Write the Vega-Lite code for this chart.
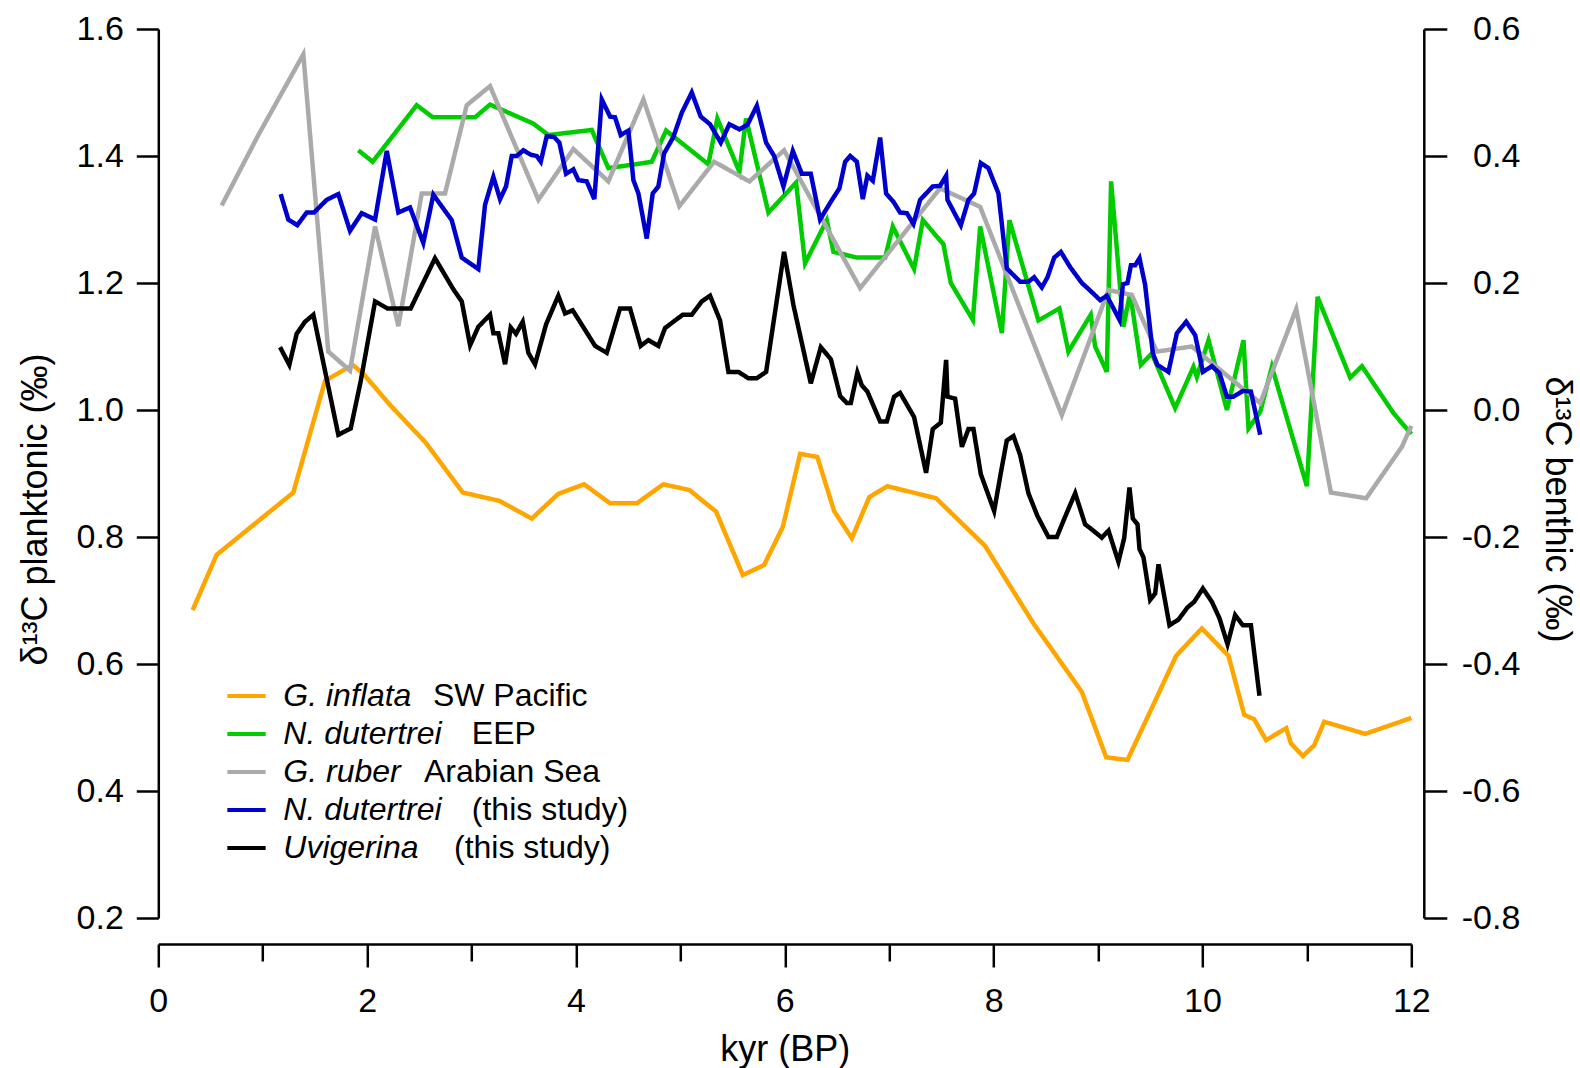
{
"$schema":"https://vega.github.io/schema/vega-lite/v6.json",
"width":1253,"height":889,
"autosize":{"type":"none"},
"padding":{"left":158.3,"top":29,"right":168.7,"bottom":150},
"background":"white",
"config":{"view":{"stroke":null},
"axis":{"domainColor":"black","domainWidth":2.5,"tickColor":"black","tickWidth":2.5,"labelFont":"Liberation Sans","labelFontSize":34,"labelColor":"black","titleFont":"Liberation Sans","titleFontSize":36,"titleColor":"black","titleFontWeight":"normal","grid":false,"labelFlush":false,"labelOverlap":false},
"legend":{"labelFont":"Liberation Sans","labelColor":"black","labelLimit":0}},
"data":{"values":[
{"series":"s1","kyr":0.329,"d13c":0.685},{"series":"s1","kyr":0.559,"d13c":0.772},{"series":"s1","kyr":1.293,"d13c":0.870},{"series":"s1","kyr":1.597,"d13c":1.046},{"series":"s1","kyr":1.862,"d13c":1.071},{"series":"s1","kyr":1.964,"d13c":1.057},{"series":"s1","kyr":2.219,"d13c":1.008},{"series":"s1","kyr":2.564,"d13c":0.948},{"series":"s1","kyr":2.916,"d13c":0.870},{"series":"s1","kyr":3.266,"d13c":0.857},{"series":"s1","kyr":3.577,"d13c":0.829},{"series":"s1","kyr":3.831,"d13c":0.868},{"series":"s1","kyr":4.078,"d13c":0.883},{"series":"s1","kyr":4.327,"d13c":0.853},{"series":"s1","kyr":4.582,"d13c":0.853},{"series":"s1","kyr":4.837,"d13c":0.883},{"series":"s1","kyr":5.086,"d13c":0.874},{"series":"s1","kyr":5.342,"d13c":0.840},{"series":"s1","kyr":5.598,"d13c":0.740},{"series":"s1","kyr":5.802,"d13c":0.756},{"series":"s1","kyr":5.981,"d13c":0.816},{"series":"s1","kyr":6.147,"d13c":0.931},{"series":"s1","kyr":6.312,"d13c":0.926},{"series":"s1","kyr":6.472,"d13c":0.841},{"series":"s1","kyr":6.642,"d13c":0.798},{"series":"s1","kyr":6.810,"d13c":0.863},{"series":"s1","kyr":6.983,"d13c":0.880},{"series":"s1","kyr":7.449,"d13c":0.861},{"series":"s1","kyr":7.918,"d13c":0.786},{"series":"s1","kyr":8.381,"d13c":0.664},{"series":"s1","kyr":8.845,"d13c":0.556},{"series":"s1","kyr":9.078,"d13c":0.453},{"series":"s1","kyr":9.282,"d13c":0.449},{"series":"s1","kyr":9.499,"d13c":0.525},{"series":"s1","kyr":9.748,"d13c":0.613},{"series":"s1","kyr":9.994,"d13c":0.656},{"series":"s1","kyr":10.249,"d13c":0.613},{"series":"s1","kyr":10.400,"d13c":0.520},{"series":"s1","kyr":10.495,"d13c":0.513},{"series":"s1","kyr":10.610,"d13c":0.480},{"series":"s1","kyr":10.802,"d13c":0.499},{"series":"s1","kyr":10.847,"d13c":0.475},{"series":"s1","kyr":10.962,"d13c":0.455},{"series":"s1","kyr":11.070,"d13c":0.472},{"series":"s1","kyr":11.166,"d13c":0.509},{"series":"s1","kyr":11.559,"d13c":0.490},{"series":"s1","kyr":12.0,"d13c":0.515},
{"series":"s2","kyr":1.916,"d13c":1.409},{"series":"s2","kyr":2.053,"d13c":1.391},{"series":"s2","kyr":2.475,"d13c":1.480},{"series":"s2","kyr":2.628,"d13c":1.461},{"series":"s2","kyr":3.034,"d13c":1.461},{"series":"s2","kyr":3.177,"d13c":1.481},{"series":"s2","kyr":3.592,"d13c":1.451},{"series":"s2","kyr":3.736,"d13c":1.433},{"series":"s2","kyr":4.151,"d13c":1.441},{"series":"s2","kyr":4.310,"d13c":1.381},{"series":"s2","kyr":4.614,"d13c":1.388},{"series":"s2","kyr":4.726,"d13c":1.391},{"series":"s2","kyr":4.863,"d13c":1.440},{"series":"s2","kyr":5.268,"d13c":1.387},{"series":"s2","kyr":5.354,"d13c":1.459},{"series":"s2","kyr":5.565,"d13c":1.375},{"series":"s2","kyr":5.629,"d13c":1.459},{"series":"s2","kyr":5.843,"d13c":1.311},{"series":"s2","kyr":6.108,"d13c":1.358},{"series":"s2","kyr":6.194,"d13c":1.231},{"series":"s2","kyr":6.402,"d13c":1.299},{"series":"s2","kyr":6.466,"d13c":1.249},{"series":"s2","kyr":6.690,"d13c":1.240},{"series":"s2","kyr":6.961,"d13c":1.240},{"series":"s2","kyr":7.034,"d13c":1.289},{"series":"s2","kyr":7.238,"d13c":1.222},{"series":"s2","kyr":7.322,"d13c":1.299},{"series":"s2","kyr":7.519,"d13c":1.261},{"series":"s2","kyr":7.590,"d13c":1.200},{"series":"s2","kyr":7.801,"d13c":1.142},{"series":"s2","kyr":7.871,"d13c":1.289},{"series":"s2","kyr":8.079,"d13c":1.121},{"series":"s2","kyr":8.151,"d13c":1.299},{"series":"s2","kyr":8.429,"d13c":1.141},{"series":"s2","kyr":8.630,"d13c":1.160},{"series":"s2","kyr":8.716,"d13c":1.092},{"series":"s2","kyr":8.930,"d13c":1.150},{"series":"s2","kyr":8.972,"d13c":1.100},{"series":"s2","kyr":9.084,"d13c":1.060},{"series":"s2","kyr":9.125,"d13c":1.360},{"series":"s2","kyr":9.243,"d13c":1.131},{"series":"s2","kyr":9.307,"d13c":1.184},{"series":"s2","kyr":9.410,"d13c":1.071},{"series":"s2","kyr":9.515,"d13c":1.089},{"series":"s2","kyr":9.738,"d13c":1.003},{"series":"s2","kyr":9.914,"d13c":1.068},{"series":"s2","kyr":9.946,"d13c":1.052},{"series":"s2","kyr":10.058,"d13c":1.110},{"series":"s2","kyr":10.234,"d13c":1.000},{"series":"s2","kyr":10.393,"d13c":1.110},{"series":"s2","kyr":10.441,"d13c":0.971},{"series":"s2","kyr":10.553,"d13c":0.997},{"series":"s2","kyr":10.665,"d13c":1.068},{"series":"s2","kyr":11.000,"d13c":0.880},{"series":"s2","kyr":11.102,"d13c":1.178},{"series":"s2","kyr":11.415,"d13c":1.051},{"series":"s2","kyr":11.527,"d13c":1.069},{"series":"s2","kyr":11.830,"d13c":0.995},{"series":"s2","kyr":12.0,"d13c":0.962},
{"series":"s3","kyr":0.607,"d13c":1.322},{"series":"s3","kyr":0.958,"d13c":1.433},{"series":"s3","kyr":1.389,"d13c":1.560},{"series":"s3","kyr":1.628,"d13c":1.092},{"series":"s3","kyr":1.836,"d13c":1.062},{"series":"s3","kyr":2.076,"d13c":1.289},{"series":"s3","kyr":2.299,"d13c":1.132},{"series":"s3","kyr":2.523,"d13c":1.341},{"series":"s3","kyr":2.746,"d13c":1.341},{"series":"s3","kyr":2.954,"d13c":1.480},{"series":"s3","kyr":3.177,"d13c":1.510},{"series":"s3","kyr":3.640,"d13c":1.331},{"series":"s3","kyr":3.975,"d13c":1.411},{"series":"s3","kyr":4.310,"d13c":1.360},{"series":"s3","kyr":4.646,"d13c":1.489},{"series":"s3","kyr":4.990,"d13c":1.321},{"series":"s3","kyr":5.323,"d13c":1.391},{"series":"s3","kyr":5.661,"d13c":1.360},{"series":"s3","kyr":5.993,"d13c":1.409},{"series":"s3","kyr":6.721,"d13c":1.192},{"series":"s3","kyr":7.487,"d13c":1.349},{"series":"s3","kyr":7.871,"d13c":1.320},{"series":"s3","kyr":8.653,"d13c":0.992},{"series":"s3","kyr":9.100,"d13c":1.189},{"series":"s3","kyr":9.324,"d13c":1.181},{"series":"s3","kyr":9.563,"d13c":1.092},{"series":"s3","kyr":9.898,"d13c":1.100},{"series":"s3","kyr":10.553,"d13c":1.011},{"series":"s3","kyr":10.898,"d13c":1.159},{"series":"s3","kyr":11.230,"d13c":0.870},{"series":"s3","kyr":11.568,"d13c":0.861},{"series":"s3","kyr":11.910,"d13c":0.942},{"series":"s3","kyr":12.0,"d13c":0.975},
{"series":"s4","kyr":1.172,"d13c":1.340},{"series":"s4","kyr":1.245,"d13c":1.300},{"series":"s4","kyr":1.331,"d13c":1.291},{"series":"s4","kyr":1.421,"d13c":1.311},{"series":"s4","kyr":1.491,"d13c":1.311},{"series":"s4","kyr":1.613,"d13c":1.331},{"series":"s4","kyr":1.724,"d13c":1.340},{"series":"s4","kyr":1.836,"d13c":1.282},{"series":"s4","kyr":1.948,"d13c":1.310},{"series":"s4","kyr":2.076,"d13c":1.300},{"series":"s4","kyr":2.188,"d13c":1.408},{"series":"s4","kyr":2.299,"d13c":1.311},{"series":"s4","kyr":2.411,"d13c":1.319},{"series":"s4","kyr":2.538,"d13c":1.263},{"series":"s4","kyr":2.634,"d13c":1.339},{"series":"s4","kyr":2.810,"d13c":1.299},{"series":"s4","kyr":2.906,"d13c":1.240},{"series":"s4","kyr":3.065,"d13c":1.222},{"series":"s4","kyr":3.129,"d13c":1.323},{"series":"s4","kyr":3.209,"d13c":1.367},{"series":"s4","kyr":3.273,"d13c":1.332},{"series":"s4","kyr":3.330,"d13c":1.352},{"series":"s4","kyr":3.385,"d13c":1.400},{"series":"s4","kyr":3.433,"d13c":1.400},{"series":"s4","kyr":3.496,"d13c":1.409},{"series":"s4","kyr":3.567,"d13c":1.402},{"series":"s4","kyr":3.624,"d13c":1.400},{"series":"s4","kyr":3.663,"d13c":1.391},{"series":"s4","kyr":3.720,"d13c":1.431},{"series":"s4","kyr":3.790,"d13c":1.430},{"series":"s4","kyr":3.841,"d13c":1.421},{"series":"s4","kyr":3.905,"d13c":1.372},{"series":"s4","kyr":3.975,"d13c":1.379},{"series":"s4","kyr":4.023,"d13c":1.362},{"series":"s4","kyr":4.103,"d13c":1.360},{"series":"s4","kyr":4.176,"d13c":1.332},{"series":"s4","kyr":4.247,"d13c":1.489},{"series":"s4","kyr":4.327,"d13c":1.462},{"series":"s4","kyr":4.374,"d13c":1.461},{"series":"s4","kyr":4.429,"d13c":1.433},{"series":"s4","kyr":4.502,"d13c":1.440},{"series":"s4","kyr":4.550,"d13c":1.362},{"series":"s4","kyr":4.598,"d13c":1.341},{"series":"s4","kyr":4.678,"d13c":1.270},{"series":"s4","kyr":4.735,"d13c":1.341},{"series":"s4","kyr":4.789,"d13c":1.352},{"series":"s4","kyr":4.844,"d13c":1.404},{"series":"s4","kyr":4.933,"d13c":1.430},{"series":"s4","kyr":5.013,"d13c":1.468},{"series":"s4","kyr":5.109,"d13c":1.500},{"series":"s4","kyr":5.195,"d13c":1.462},{"series":"s4","kyr":5.284,"d13c":1.450},{"series":"s4","kyr":5.387,"d13c":1.421},{"series":"s4","kyr":5.469,"d13c":1.450},{"series":"s4","kyr":5.565,"d13c":1.442},{"series":"s4","kyr":5.642,"d13c":1.449},{"series":"s4","kyr":5.732,"d13c":1.479},{"series":"s4","kyr":5.821,"d13c":1.421},{"series":"s4","kyr":5.898,"d13c":1.400},{"series":"s4","kyr":5.987,"d13c":1.352},{"series":"s4","kyr":6.077,"d13c":1.408},{"series":"s4","kyr":6.163,"d13c":1.372},{"series":"s4","kyr":6.249,"d13c":1.372},{"series":"s4","kyr":6.338,"d13c":1.300},{"series":"s4","kyr":6.441,"d13c":1.328},{"series":"s4","kyr":6.523,"d13c":1.349},{"series":"s4","kyr":6.578,"d13c":1.391},{"series":"s4","kyr":6.626,"d13c":1.400},{"series":"s4","kyr":6.690,"d13c":1.391},{"series":"s4","kyr":6.747,"d13c":1.332},{"series":"s4","kyr":6.791,"d13c":1.369},{"series":"s4","kyr":6.843,"d13c":1.361},{"series":"s4","kyr":6.913,"d13c":1.429},{"series":"s4","kyr":6.970,"d13c":1.341},{"series":"s4","kyr":7.040,"d13c":1.328},{"series":"s4","kyr":7.104,"d13c":1.311},{"series":"s4","kyr":7.169,"d13c":1.310},{"series":"s4","kyr":7.232,"d13c":1.293},{"series":"s4","kyr":7.296,"d13c":1.331},{"series":"s4","kyr":7.417,"d13c":1.352},{"series":"s4","kyr":7.487,"d13c":1.353},{"series":"s4","kyr":7.545,"d13c":1.369},{"series":"s4","kyr":7.558,"d13c":1.331},{"series":"s4","kyr":7.686,"d13c":1.291},{"series":"s4","kyr":7.759,"d13c":1.331},{"series":"s4","kyr":7.813,"d13c":1.341},{"series":"s4","kyr":7.877,"d13c":1.389},{"series":"s4","kyr":7.950,"d13c":1.381},{"series":"s4","kyr":8.046,"d13c":1.341},{"series":"s4","kyr":8.126,"d13c":1.223},{"series":"s4","kyr":8.254,"d13c":1.202},{"series":"s4","kyr":8.333,"d13c":1.202},{"series":"s4","kyr":8.388,"d13c":1.209},{"series":"s4","kyr":8.462,"d13c":1.193},{"series":"s4","kyr":8.516,"d13c":1.209},{"series":"s4","kyr":8.580,"d13c":1.240},{"series":"s4","kyr":8.644,"d13c":1.249},{"series":"s4","kyr":8.733,"d13c":1.225},{"series":"s4","kyr":8.845,"d13c":1.200},{"series":"s4","kyr":8.925,"d13c":1.188},{"series":"s4","kyr":9.020,"d13c":1.173},{"series":"s4","kyr":9.084,"d13c":1.180},{"series":"s4","kyr":9.148,"d13c":1.160},{"series":"s4","kyr":9.205,"d13c":1.142},{"series":"s4","kyr":9.238,"d13c":1.198},{"series":"s4","kyr":9.282,"d13c":1.200},{"series":"s4","kyr":9.315,"d13c":1.228},{"series":"s4","kyr":9.356,"d13c":1.228},{"series":"s4","kyr":9.397,"d13c":1.239},{"series":"s4","kyr":9.451,"d13c":1.197},{"series":"s4","kyr":9.525,"d13c":1.089},{"series":"s4","kyr":9.569,"d13c":1.071},{"series":"s4","kyr":9.674,"d13c":1.060},{"series":"s4","kyr":9.755,"d13c":1.121},{"series":"s4","kyr":9.844,"d13c":1.139},{"series":"s4","kyr":9.930,"d13c":1.118},{"series":"s4","kyr":10.004,"d13c":1.060},{"series":"s4","kyr":10.090,"d13c":1.069},{"series":"s4","kyr":10.163,"d13c":1.058},{"series":"s4","kyr":10.234,"d13c":1.021},{"series":"s4","kyr":10.297,"d13c":1.021},{"series":"s4","kyr":10.387,"d13c":1.030},{"series":"s4","kyr":10.464,"d13c":1.029},{"series":"s4","kyr":10.553,"d13c":0.961},
{"series":"s5","kyr":1.166,"d13c":0.099},{"series":"s5","kyr":1.255,"d13c":0.071},{"series":"s5","kyr":1.325,"d13c":0.120},{"series":"s5","kyr":1.405,"d13c":0.139},{"series":"s5","kyr":1.485,"d13c":0.150},{"series":"s5","kyr":1.724,"d13c":-0.039},{"series":"s5","kyr":1.843,"d13c":-0.029},{"series":"s5","kyr":1.938,"d13c":0.045},{"series":"s5","kyr":2.076,"d13c":0.171},{"series":"s5","kyr":2.194,"d13c":0.160},{"series":"s5","kyr":2.417,"d13c":0.160},{"series":"s5","kyr":2.650,"d13c":0.239},{"series":"s5","kyr":2.826,"d13c":0.190},{"series":"s5","kyr":2.906,"d13c":0.171},{"series":"s5","kyr":2.986,"d13c":0.102},{"series":"s5","kyr":3.065,"d13c":0.131},{"series":"s5","kyr":3.177,"d13c":0.150},{"series":"s5","kyr":3.209,"d13c":0.121},{"series":"s5","kyr":3.257,"d13c":0.121},{"series":"s5","kyr":3.321,"d13c":0.072},{"series":"s5","kyr":3.375,"d13c":0.130},{"series":"s5","kyr":3.426,"d13c":0.120},{"series":"s5","kyr":3.490,"d13c":0.139},{"series":"s5","kyr":3.544,"d13c":0.090},{"series":"s5","kyr":3.608,"d13c":0.072},{"series":"s5","kyr":3.714,"d13c":0.135},{"series":"s5","kyr":3.831,"d13c":0.180},{"series":"s5","kyr":3.896,"d13c":0.152},{"series":"s5","kyr":3.969,"d13c":0.157},{"series":"s5","kyr":4.183,"d13c":0.101},{"series":"s5","kyr":4.295,"d13c":0.090},{"series":"s5","kyr":4.422,"d13c":0.160},{"series":"s5","kyr":4.518,"d13c":0.160},{"series":"s5","kyr":4.620,"d13c":0.101},{"series":"s5","kyr":4.693,"d13c":0.110},{"series":"s5","kyr":4.789,"d13c":0.101},{"series":"s5","kyr":4.853,"d13c":0.129},{"series":"s5","kyr":4.933,"d13c":0.139},{"series":"s5","kyr":5.023,"d13c":0.150},{"series":"s5","kyr":5.109,"d13c":0.150},{"series":"s5","kyr":5.205,"d13c":0.171},{"series":"s5","kyr":5.284,"d13c":0.180},{"series":"s5","kyr":5.380,"d13c":0.141},{"series":"s5","kyr":5.460,"d13c":0.060},{"series":"s5","kyr":5.556,"d13c":0.060},{"series":"s5","kyr":5.651,"d13c":0.050},{"series":"s5","kyr":5.732,"d13c":0.050},{"series":"s5","kyr":5.821,"d13c":0.060},{"series":"s5","kyr":5.993,"d13c":0.249},{"series":"s5","kyr":6.083,"d13c":0.165},{"series":"s5","kyr":6.249,"d13c":0.042},{"series":"s5","kyr":6.345,"d13c":0.099},{"series":"s5","kyr":6.441,"d13c":0.080},{"series":"s5","kyr":6.530,"d13c":0.022},{"series":"s5","kyr":6.594,"d13c":0.011},{"series":"s5","kyr":6.632,"d13c":0.011},{"series":"s5","kyr":6.695,"d13c":0.059},{"series":"s5","kyr":6.737,"d13c":0.039},{"series":"s5","kyr":6.791,"d13c":0.029},{"series":"s5","kyr":6.913,"d13c":-0.018},{"series":"s5","kyr":6.977,"d13c":-0.018},{"series":"s5","kyr":7.047,"d13c":0.021},{"series":"s5","kyr":7.104,"d13c":0.027},{"series":"s5","kyr":7.238,"d13c":-0.011},{"series":"s5","kyr":7.353,"d13c":-0.099},{"series":"s5","kyr":7.417,"d13c":-0.030},{"series":"s5","kyr":7.494,"d13c":-0.020},{"series":"s5","kyr":7.545,"d13c":0.079},{"series":"s5","kyr":7.558,"d13c":0.021},{"series":"s5","kyr":7.631,"d13c":0.018},{"series":"s5","kyr":7.696,"d13c":-0.058},{"series":"s5","kyr":7.759,"d13c":-0.030},{"series":"s5","kyr":7.807,"d13c":-0.030},{"series":"s5","kyr":7.877,"d13c":-0.101},{"series":"s5","kyr":8.005,"d13c":-0.159},{"series":"s5","kyr":8.069,"d13c":-0.099},{"series":"s5","kyr":8.126,"d13c":-0.048},{"series":"s5","kyr":8.190,"d13c":-0.041},{"series":"s5","kyr":8.254,"d13c":-0.071},{"series":"s5","kyr":8.333,"d13c":-0.131},{"series":"s5","kyr":8.420,"d13c":-0.167},{"series":"s5","kyr":8.525,"d13c":-0.200},{"series":"s5","kyr":8.605,"d13c":-0.200},{"series":"s5","kyr":8.685,"d13c":-0.168},{"series":"s5","kyr":8.781,"d13c":-0.131},{"series":"s5","kyr":8.876,"d13c":-0.180},{"series":"s5","kyr":8.924,"d13c":-0.186},{"series":"s5","kyr":9.036,"d13c":-0.201},{"series":"s5","kyr":9.100,"d13c":-0.190},{"series":"s5","kyr":9.195,"d13c":-0.239},{"series":"s5","kyr":9.250,"d13c":-0.202},{"series":"s5","kyr":9.301,"d13c":-0.122},{"series":"s5","kyr":9.333,"d13c":-0.171},{"series":"s5","kyr":9.378,"d13c":-0.180},{"series":"s5","kyr":9.397,"d13c":-0.219},{"series":"s5","kyr":9.435,"d13c":-0.232},{"series":"s5","kyr":9.499,"d13c":-0.299},{"series":"s5","kyr":9.547,"d13c":-0.289},{"series":"s5","kyr":9.579,"d13c":-0.243},{"series":"s5","kyr":9.684,"d13c":-0.339},{"series":"s5","kyr":9.770,"d13c":-0.330},{"series":"s5","kyr":9.856,"d13c":-0.311},{"series":"s5","kyr":9.921,"d13c":-0.302},{"series":"s5","kyr":10.004,"d13c":-0.281},{"series":"s5","kyr":10.090,"d13c":-0.302},{"series":"s5","kyr":10.163,"d13c":-0.328},{"series":"s5","kyr":10.240,"d13c":-0.369},{"series":"s5","kyr":10.313,"d13c":-0.323},{"series":"s5","kyr":10.387,"d13c":-0.339},{"series":"s5","kyr":10.464,"d13c":-0.339},{"series":"s5","kyr":10.546,"d13c":-0.450}
]},
"transform":[{"calculate":"datum.series","as":"ref"},{"calculate":"datum.series","as":"ref2"}],
"encoding":{
"x":{"field":"kyr","type":"quantitative","scale":{"domain":[0,12],"nice":false},
"axis":{"values":[0,1,2,3,4,5,6,7,8,9,10,11,12],"labelExpr":"datum.value % 2 === 0 ? datum.label : ''","tickSize":{"condition":{"test":"datum.value % 2 === 0","value":23},"value":17},"offset":26,"title":"kyr (BP)","labelPadding":17,"titlePadding":14}},
"color":{"field":"series","type":"nominal","scale":{"domain":["s1","s2","s3","s4","s5"],"range":["#FFA500","#00CC00","#AAAAAA","#0000CC","#000000"]},
"legend":{"orient":"none","legendX":66.7,"legendY":645.5,"title":null,"symbolType":"stroke","symbolSize":1467,"symbolStrokeWidth":4,"labelFontSize":32,"labelFontStyle":"italic","labelOffset":15.3,"rowPadding":0,"padding":0,
"labelExpr":"datum.label === 's1' ? 'G. inflata' : datum.label === 's2' ? 'N. dutertrei' : datum.label === 's3' ? 'G. ruber' : datum.label === 's4' ? 'N. dutertrei' : 'Uvigerina'"}},
"strokeDash":{"field":"ref","type":"nominal","scale":{"range":[[1,0],[1,0],[1,0],[1,0],[1,0]]},
"legend":{"orient":"none","legendX":222.7,"legendY":645.5,"title":null,"symbolType":"stroke","symbolSize":1467,"symbolStrokeWidth":4,"symbolOpacity":0,"symbolStrokeColor":"transparent","labelFontSize":32,"labelOffset":0,"rowPadding":0,"padding":0,
"labelExpr":"datum.label === 's1' ? '\u200B\u00a0SW Pacific' : datum.label === 's3' ? 'Arabian Sea' : ''",
"encode":{"symbols":{"update":{"opacity":{"value":0}}}}}},
"opacity":{"field":"ref2","type":"nominal","scale":{"range":[1,1]},
"legend":{"orient":"none","legendX":252.7,"legendY":645.5,"title":null,"symbolType":"stroke","symbolSize":1467,"symbolStrokeWidth":4,"symbolOpacity":0,"symbolStrokeColor":"transparent","labelFontSize":32,"labelOffset":0,"rowPadding":0,"padding":0,
"labelExpr":"datum.label === 's2' ? '\u200B\u00a0\u00a0EEP' : datum.label === 's4' ? '\u200B\u00a0\u00a0(this study)' : datum.label === 's5' ? '(this study)' : ''",
"encode":{"symbols":{"update":{"opacity":{"value":0}}}}}}
},
"layer":[
{"transform":[{"filter":"datum.series !== 's5'"}],
"mark":{"type":"line","strokeWidth":4.5},
"encoding":{
"y":{"field":"d13c","type":"quantitative","scale":{"domain":[0.2,1.6],"nice":false,"zero":false},
"axis":{"orient":"left","values":[0.2,0.4,0.6,0.8,1.0,1.2,1.4,1.6],"format":".1f","tickSize":22,"labelPadding":13,"title":"δ¹³C planktonic (‰)","titleX":-123,"titleY":480,"titleAngle":270,"titleBaseline":"middle","titleAlign":"center"}}
}},
{"transform":[{"filter":"datum.series === 's5'"}],
"mark":{"type":"line","strokeWidth":4.5},
"encoding":{
"y":{"field":"d13c","type":"quantitative","scale":{"domain":[-0.8,0.6],"nice":false,"zero":false},
"axis":{"orient":"right","offset":12.5,"values":[-0.8,-0.6,-0.4,-0.2,0.0,0.2,0.4,0.6],"format":".1f","labelExpr":"replace(datum.label, '\u2212', '-')","tickSize":23,"labelAlign":"right","labelPadding":73,"title":"δ¹³C benthic (‰)","titleX":133,"titleY":480,"titleAngle":90,"titleBaseline":"middle","titleAlign":"center"}}
}}
],
"resolve":{"scale":{"y":"independent"}}
}
